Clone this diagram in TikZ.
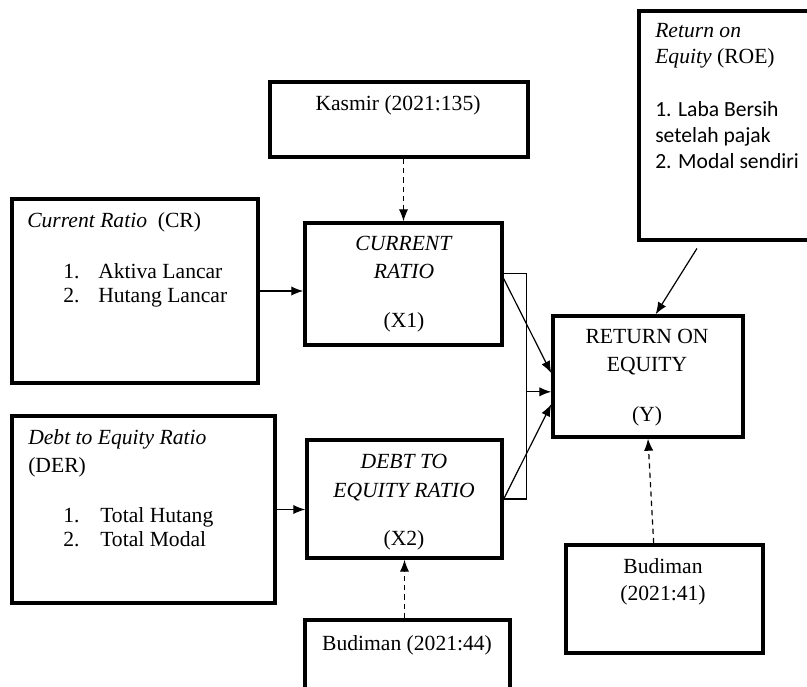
\documentclass[tikz,border=0pt]{standalone}
\usepackage{fontspec}
\setmainfont{Liberation Serif}
\newfontfamily\calibrifont{Carlito}
\usetikzlibrary{positioning,%
  fit,%
  arrows.meta,%
  calc}

\begin{document}
\begin{tikzpicture}[x=0.75pt,y=-0.75pt,
    font=\fontsize{16.2}{20}\selectfont,
    box/.style={draw,line width=2.6pt,inner sep=0pt},
    txt/.style={anchor=base,inner sep=0pt},
    ltxt/.style={anchor=base west,inner sep=0pt},
    arr/.style={line width=0.9pt,-{Latex[length=9pt,width=7pt]}},
    dasharr/.style={arr,dash pattern=on 4pt off 3pt}]
            \path[use as bounding box,clip] (0,0) rectangle (807,686);

            % boxes
            \node[box,fit={(270,82) (528,157)}] (kas) {};
            \node[box,fit={(12,199) (258,383)}] (cr) {};
            \node[box,fit={(305,223) (502,345)}] (x1) {};
            \node[box,fit={(12,416) (275,603)}] (der) {};
            \node[box,fit={(307,440) (502,558)}] (x2) {};
            \node[box,fit={(553,316) (743,437)}] (y) {};
            \node[box,fit={(639,11) (830,240)}] (roe) {};
            \node[box,fit={(566,545) (763,653)}] (bud41) {};
            \node[box,fit={(305,620) (510,700)}] (bud44) {};

            % texts
            \node[txt] (kastxt) at (398,110) {Kasmir (2021:135)};

            \node[ltxt] (crtitle) at (27,227) {\textit{Current Ratio}\ \ (CR)};
            \node[ltxt] (crn1) at (63,278) {1.};
            \node[ltxt] (cri1) at (98,278) {Aktiva Lancar};
            \node[ltxt] (crn2) at (63,302) {2.};
            \node[ltxt] (cri2) at (98,302) {Hutang Lancar};

            \node[txt] (x1a) at (404,250) {\textit{CURRENT}};
            \node[txt] (x1b) at (404,278) {\textit{RATIO}};
            \node[txt] (x1c) at (404,327) {(X1)};

            \node[ltxt] (dertitle) at (28,444) {\textit{Debt to Equity Ratio}};
            \node[ltxt] (dersub) at (28,472) {(DER)};
            \node[ltxt] (dern1) at (63,522) {1.};
            \node[ltxt] (deri1) at (100,522) {Total Hutang};
            \node[ltxt] (dern2) at (63,546) {2.};
            \node[ltxt] (deri2) at (100,546) {Total Modal};

            \node[txt] (x2a) at (404,468) {\textit{DEBT TO}};
            \node[txt] (x2b) at (404,497) {\textit{EQUITY RATIO}};
            \node[txt] (x2c) at (404,545) {(X2)};

            \node[txt] (ya) at (647,343) {RETURN ON};
            \node[txt] (yb) at (647,371) {EQUITY};
            \node[txt] (yc) at (647,421) {(Y)};

            \node[ltxt] (roea) at (655,37) {\textit{Return on}};
            \node[ltxt] (roeb) at (655,63) {\textit{Equity} (ROE)};
            \node[ltxt] (roec) at (655,116) {\calibrifont 1. Laba Bersih};
            \node[ltxt] (roed) at (655,142) {\calibrifont setelah pajak};
            \node[ltxt] (roee) at (655,168) {\calibrifont 2. Modal sendiri};

            \node[txt] (bud41a) at (663,573) {Budiman};
            \node[txt] (bud41b) at (663,600) {(2021:41)};

            \node[txt] (bud44txt) at (407,650) {Budiman (2021:44)};

            % connectors
            \draw[dasharr] (x1.north |- kas.south) -- (x1.north);
            \draw[dasharr] (x2.south |- bud44.north) -- (x2.south);
            \draw[dasharr] (bud41.101) -- (y.south);
            \draw[arr] (cr.east) -- (cr.east -| x1.west);
            \draw[arr] (der.east) -- (der.east -| x2.west);
            \draw[arr,shorten <=6pt] (roe.254) -- (y.83);

            \draw[line width=0.9pt] (x1.6) -- ++(23,0) coordinate (brk) |- (x2.east);
            \draw[arr] (x1.3) -- (y.178);
            \draw[arr] (brk |- y.189) -- (y.189);
            \draw[arr] (x2.east) -- (y.196);
        \end{tikzpicture}
\end{document}
